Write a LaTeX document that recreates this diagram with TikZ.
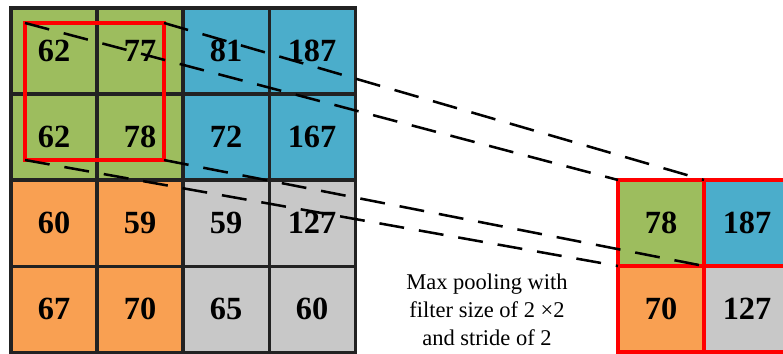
\documentclass[tikz,border=0pt]{standalone}
\usepackage{fontspec}
\setmainfont{Liberation Serif}
\usetikzlibrary{positioning}

\definecolor{cellgreen}{HTML}{9DBD5E}
\definecolor{cellblue}{HTML}{4BADCB}
\definecolor{cellorange}{HTML}{F9A052}
\definecolor{cellgray}{HTML}{C8C8C8}
\definecolor{gridline}{HTML}{222222}

\begin{document}
\begin{tikzpicture}[x=0.025cm, y=-0.025cm, node distance=0pt,
    every node/.style={font=\fontsize{23}{27}\selectfont\bfseries},
    cell/.style={draw=gridline, line width=2.2pt, rectangle, minimum size=2.15cm, inner sep=0pt, outer sep=0pt},
    poolcell/.style={cell, draw=red},
    dashline/.style={line width=1.8pt, dash pattern=on 0.625cm off 0.375cm}]
    \clip (0,0) rectangle (783,354);

    % Input feature map (4x4)
    \node[cell, fill=cellgreen] (a11) at (54,51) {62};
    \node[cell, fill=cellgreen, right=of a11] (a12) {77};
    \node[cell, fill=cellblue, right=of a12] (a13) {81};
    \node[cell, fill=cellblue, right=of a13] (a14) {187};

    \node[cell, fill=cellgreen, below=of a11] (a21) {62};
    \node[cell, fill=cellgreen, right=of a21] (a22) {78};
    \node[cell, fill=cellblue, right=of a22] (a23) {72};
    \node[cell, fill=cellblue, right=of a23] (a24) {167};

    \node[cell, fill=cellorange, below=of a21] (a31) {60};
    \node[cell, fill=cellorange, right=of a31] (a32) {59};
    \node[cell, fill=cellgray, right=of a32] (a33) {59};
    \node[cell, fill=cellgray, right=of a33] (a34) {127};

    \node[cell, fill=cellorange, below=of a31] (a41) {67};
    \node[cell, fill=cellorange, right=of a41] (a42) {70};
    \node[cell, fill=cellgray, right=of a42] (a43) {65};
    \node[cell, fill=cellgray, right=of a43] (a44) {60};

    % Pooling window
    \node[draw=red, line width=2.3pt, inner sep=0pt, outer sep=0pt, minimum width=3.475cm, minimum height=3.425cm] (window) at (94.5,91.5) {};

    % Pooled output (2x2)
    \node[poolcell, fill=cellgreen] (p11) at (661,223) {78};
    \node[poolcell, fill=cellblue, right=of p11] (p12) {187};
    \node[poolcell, fill=cellorange, below=of p11] (p21) {70};
    \node[poolcell, fill=cellgray, right=of p21] (p22) {127};

    % Projection of the window onto the output cell
    \draw[dashline] (window.north west) -- (p11.north west);
    \draw[dashline] (window.north east) -- (p11.north east);
    \draw[dashline] (window.south west) -- (p11.south west);
    \draw[dashline] (window.south east) -- (p11.south east);

    % Caption
    \node[font=\fontsize{16}{19.9}\selectfont, align=center] (caption) at (487,310) {Max pooling with\\filter size of 2 ×2\\and stride of 2};
\end{tikzpicture}
\end{document}
